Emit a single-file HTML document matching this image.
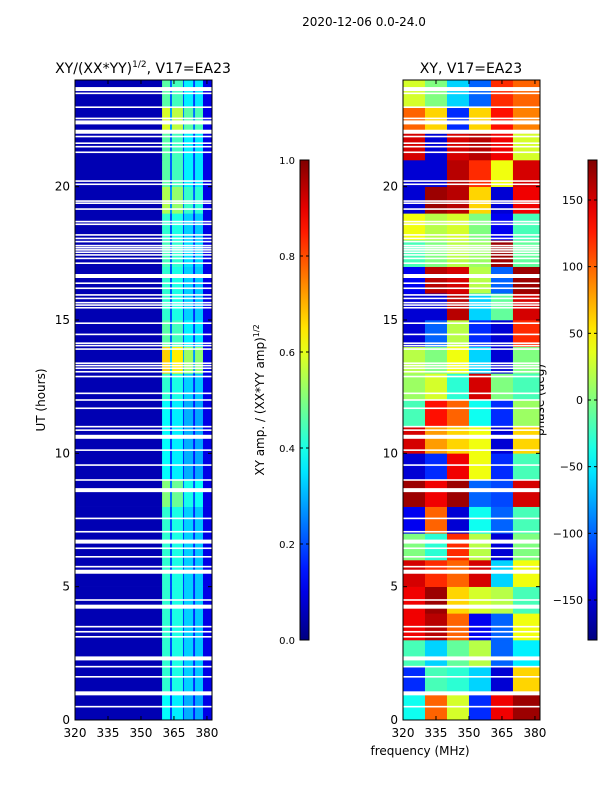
<!DOCTYPE html>
<html><head><meta charset="utf-8"><style>
html,body{margin:0;padding:0;background:#fff;}
svg{display:block;font-family:"DejaVu Sans","Liberation Sans",sans-serif;}
</style></head><body>
<svg id="c" width="600" height="800" xmlns="http://www.w3.org/2000/svg">
<text x="364" y="26" font-size="12" text-anchor="middle">2020-12-06 0.0-24.0</text>
<text x="143" y="73" font-size="14" text-anchor="middle">XY/(XX*YY)<tspan font-size="9" dy="-6">1/2</tspan><tspan dy="6">, V17=EA23</tspan></text>
<text x="471" y="73" font-size="14" text-anchor="middle">XY, V17=EA23</text>
<text x="420" y="755" font-size="12" text-anchor="middle">frequency (MHz)</text>
<text transform="translate(45,400) rotate(-90)" font-size="12" text-anchor="middle">UT (hours)</text>
<text transform="translate(264,400) rotate(-90)" font-size="12" text-anchor="middle">XY amp. / (XX*YY amp)<tspan font-size="8" dy="-5">1/2</tspan></text>
<text transform="translate(544,400) rotate(-90)" font-size="12" text-anchor="middle">phase (deg)</text>
<g id="amp"></g>
<g id="ph"></g>
<g id="gaps"></g>
<g id="axes"></g>
</svg>
<script>
const ampFreqEdges=[320,359.6,363.2,364.1,369.1,369.6,373.7,374.6,378.2,382.3];
const ampBinVals=[0.05,0.42,0.2,0.4,0.18,0.33,0.17,0.32,0.1];
const ampHourMult=[0.9,1,1,1,1,1,1,1,1.2,0.9,0.9,0.9,1,1.6,1.1,1.0,1,1.05,1,1.3,1.1,1.1,1.4,1.1];
const phFreqEdges=[320,330,340,350,360,370,382.3];
const phaseRows=[
[-40,100,30,-120,140,170],[-120,-20,-30,-60,-150,60],[-20,-60,-10,20,-100,-50],[140,160,100,-140,-100,40],
[140,170,60,30,20,-20],[150,120,100,150,-60,40],[0,-30,120,20,-150,0],[-140,100,-150,-40,-100,-20],
[170,140,170,-100,-110,150],[-150,-120,140,40,-120,-20],[150,80,60,40,-150,60],[-20,130,100,-40,-120,10],
[10,30,-30,150,0,-20],[20,0,40,-60,-150,0],[-150,-100,20,-120,-150,120],[-150,-150,160,-60,-10,150],
[-140,160,150,20,-100,170],[-20,0,20,10,170,-10],[40,20,30,0,-140,-20],[-150,170,160,60,-150,140],
[-150,-150,160,120,40,150],[150,-150,150,160,140,30],[100,60,-120,60,130,90],[30,0,-60,-100,120,100]];
const gapUT=[23.66,23.5,22.98,22.56,22.41,22.06,21.88,21.63,21.5,21.29,20.21,20.09,19.46,19.38,19.16,18.69,18.59,18.19,18.06,17.94,17.79,17.71,17.63,17.54,17.44,17.31,17.13,16.65,16.38,16.19,15.94,15.81,15.65,15.56,15.46,14.88,14.46,14.13,14.04,13.91,13.38,13.29,13.19,13.06,12.88,12.25,12.0,11.69,11.0,10.87,10.62,10.12,9.56,9.0,8.62,7.56,7.06,6.69,6.44,6.12,5.75,5.56,4.5,4.25,3.5,3.31,3.12,2.31,2.0,1.62,1.0,0.5];
const gapThick=[23.66,22.41,22.06,16.65,10.62,8.62,6.69,5.56,4.25,2.31,1.0];
const xTicks=[320,335,350,365,380];
const yTicks=[0,5,10,15,20];
const ampTicks=[0.0,0.2,0.4,0.6,0.8,1.0];
const phTicks=[-150,-100,-50,0,50,100,150];

const NS="http://www.w3.org/2000/svg";
const svg=document.getElementById('c');
function jet(x){x=Math.max(0,Math.min(1,x));const cl=v=>Math.round(255*Math.max(0,Math.min(1,v)));
return `rgb(${cl(1.5-Math.abs(4*x-3))},${cl(1.5-Math.abs(4*x-2))},${cl(1.5-Math.abs(4*x-1))})`;}
function mk(tag,attrs,parent){const e=document.createElementNS(NS,tag);for(const k in attrs)e.setAttribute(k,attrs[k]);parent.appendChild(e);return e;}
const P1={x0:75,x1:212},P2={x0:403,x1:540},Y0=720,Y1=80;
const xs=(p,f)=>p.x0+(f-320)/(382.3-320)*(p.x1-p.x0);
const ys=u=>Y0-(u/24)*(Y0-Y1);

const amp=document.getElementById('amp');
for(let h=0;h<24;h++)for(let j=0;j<ampBinVals.length;j++){
 const v=(j===0||j===ampBinVals.length-1)?ampBinVals[j]:ampBinVals[j]*ampHourMult[h];
 const r=mk('rect',{x:xs(P1,ampFreqEdges[j]),y:ys(h+1),width:xs(P1,ampFreqEdges[j+1])-xs(P1,ampFreqEdges[j])+0.3,height:ys(h)-ys(h+1)+0.3,fill:jet(v)},amp);
 
 
}
const ph=document.getElementById('ph');
for(let h=0;h<24;h++)for(let j=0;j<phaseRows[h].length;j++){
 const r=mk('rect',{x:xs(P2,phFreqEdges[j]),y:ys(h+1),width:xs(P2,phFreqEdges[j+1])-xs(P2,phFreqEdges[j])+0.3,height:ys(h)-ys(h+1)+0.3,fill:jet((phaseRows[h][j]+180)/360)},ph);
 
 
}
const gaps=document.getElementById('gaps');
for(const u of gapUT){
 const t=gapThick.includes(u)?4:1.6;
 for(const p of [P1,P2]){
  const r=mk('rect',{x:p.x0,y:ys(u)-t/2,width:p.x1-p.x0,height:t,fill:'#fff'},gaps);
  
  
 }
}
const ax=document.getElementById('axes');
for(const p of [P1,P2]){
 const f=mk('rect',{x:p.x0,y:Y1,width:p.x1-p.x0,height:Y0-Y1,fill:'none',stroke:'#000','stroke-width':1},ax);
 
 
 for(const t of xTicks){const x=xs(p,t);
  mk('line',{x1:x,x2:x,y1:Y0,y2:Y0-4,stroke:'#000'},ax);mk('line',{x1:x,x2:x,y1:Y1,y2:Y1+4,stroke:'#000'},ax);
  const l=mk('text',{x:x,y:Y0+17,'font-size':12,'text-anchor':'middle'},ax);l.textContent=t;
  
  }
 for(const t of yTicks){const y=ys(t);
  mk('line',{x1:p.x0,x2:p.x0+4,y1:y,y2:y,stroke:'#000'},ax);mk('line',{x1:p.x1,x2:p.x1-4,y1:y,y2:y,stroke:'#000'},ax);
  const l=mk('text',{x:p.x0-5,y:y+4,'font-size':12,'text-anchor':'end'},ax);l.textContent=t;
  
  }
}
const defs=mk('defs',{},svg);
const g=mk('linearGradient',{id:'jetg',x1:0,y1:1,x2:0,y2:0},defs);
for(let i=0;i<=20;i++)mk('stop',{offset:i/20,'stop-color':jet(i/20)},g);
const cb=[{x:300,ticks:ampTicks,lo:0,hi:1,fmt:v=>v.toFixed(1),fs:10,n:'amp-colorbar'},{x:588,ticks:phTicks,lo:-180,hi:180,fmt:v=>String(v).replace('-','\u2212'),fs:11,n:'phase-colorbar'}];
for(const c of cb){
 const r=mk('rect',{x:c.x,y:160,width:9,height:480,fill:'url(#jetg)',stroke:'#000','stroke-width':1},ax);
 
 
 for(const t of c.ticks){const y=640-(t-c.lo)/(c.hi-c.lo)*480;
  mk('line',{x1:c.x,x2:c.x+3,y1:y,y2:y,stroke:'#000'},ax);mk('line',{x1:c.x+9,x2:c.x+6,y1:y,y2:y,stroke:'#000'},ax);
  const l=mk('text',{x:c.x-5,y:y+4,'font-size':c.fs,'text-anchor':'end'},ax);l.textContent=c.fmt(t);
  
  }
}
</script>
</body></html>
